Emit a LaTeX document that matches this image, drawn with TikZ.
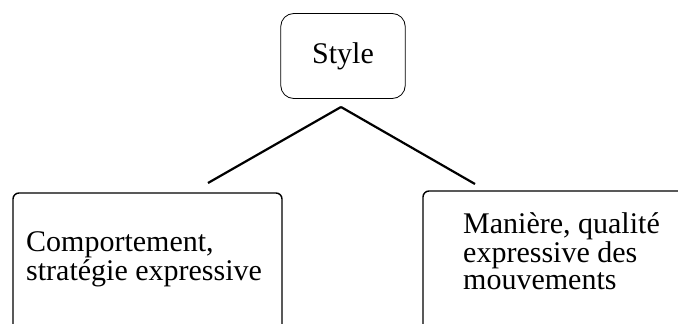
\documentclass[tikz,border=0pt]{standalone}
\usepackage{fontspec}
\setmainfont{Liberation Serif}
\begin{document}
\begin{tikzpicture}[x=1pt, y=-1pt,
        topbox/.style={draw, rounded corners=13pt, line width=0.8pt, outer sep=0pt, inner sep=0pt, minimum width=124.5pt, minimum height=85pt},
        subbox/.style={draw, rounded corners=6pt, line width=1.4pt, outer sep=0pt, inner sep=0pt, anchor=north west},
        boxtext/.style={font=\fontsize{30}{27}\selectfont, align=left, inner sep=0pt, anchor=base west},
        branch/.style={line width=2.2pt}]
            \useasboundingbox (0,0) rectangle (678,324);
            
            \node[topbox, font=\fontsize{30}{30}\selectfont] (ST) at (343, 56) {Style};
            
            \node[subbox, minimum width=269pt, minimum height=200pt] (SL) at (13, 193) {};
            \node[subbox, minimum width=300pt, minimum height=200pt] (SR) at (423, 191) {};
            
            % base west = baseline of the last line
            \node[boxtext] (TL) at (26, 280) {Comportement,\\strat\'egie expressive};
            \node[boxtext] (TR) at (463, 289) {Mani\`ere, qualit\'e\\expressive des\\mouvements};
            
            \coordinate (apex) at (341, 107);
            \coordinate (BL) at (208, 183);
            \coordinate (BR) at (475, 184);
            
            \draw[branch] (BL) -- (apex);
            \draw[branch] (apex) -- (BR);
        \end{tikzpicture}
\end{document}
